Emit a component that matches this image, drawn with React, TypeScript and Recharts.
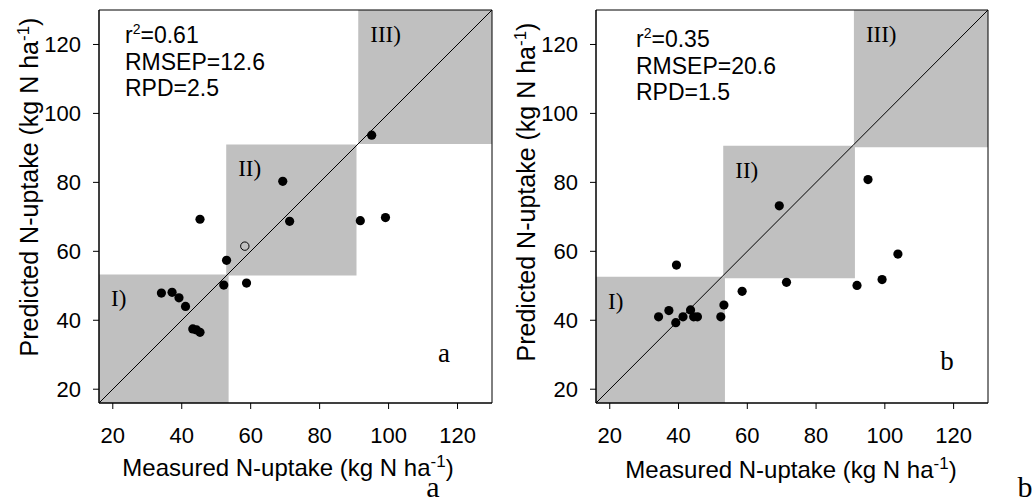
import { ScatterChart, Scatter, XAxis, YAxis, ReferenceArea, ReferenceLine } from 'recharts'

const axisTicks = [20, 40, 60, 80, 100, 120]
const lo = 16
const hi = 130

// panel a
const measuredA = [34.1, 37.2, 39.2, 41.1, 43.2, 44.3, 45.3, 45.3, 52.2, 53.0, 58.8, 69.3, 71.3, 91.8, 95.1, 99.1]
const predictedA = [47.9, 48.1, 46.5, 44.0, 37.5, 37.2, 36.5, 69.3, 50.2, 57.4, 50.8, 80.3, 68.7, 68.9, 93.7, 69.8]
const measuredOpenA = [58.3]
const predictedOpenA = [61.5]

// panel b
const measuredB = [34.2, 37.2, 39.2, 39.4, 41.3, 43.5, 44.4, 45.5, 52.3, 53.2, 58.5, 69.3, 71.4, 91.9, 95.1, 99.2, 103.8]
const predictedB = [41.0, 42.8, 39.3, 56.0, 41.0, 43.0, 41.0, 41.0, 41.0, 44.4, 48.4, 73.2, 51.0, 50.1, 80.8, 51.8, 59.2]

const zoneNames = ['I)', 'II)', 'III)']
const zoneXA = [[16, 53.6], [52.9, 90.7], [91.2, 130]]
const zoneYA = [[16, 53.3], [53.0, 91.0], [91.1, 130]]
const zoneXB = [[16, 53.5], [53.0, 91.3], [91.0, 130]]
const zoneYB = [[16, 52.6], [52.2, 90.6], [90.2, 130]]

const statsA = { r2: '0.61', rmsep: '12.6', rpd: '2.5' }
const statsB = { r2: '0.35', rmsep: '20.6', rpd: '1.5' }

const sans = '"Liberation Sans", Arial, sans-serif'
const serif = '"Liberation Serif", "Times New Roman", serif'

const toPoints = (xs: number[], ys: number[]) => xs.map((x, i) => ({ x, y: ys[i] }))

function XTick({ x, y, payload }: any) {
  return (
    <text x={x} y={y} dy={16} textAnchor="middle" fontFamily={sans} fontSize={22} fill="#000">
      {payload.value}
    </text>
  )
}

function YTick({ x, y, payload }: any) {
  return (
    <text x={x} y={y} dy={8} textAnchor="end" fontFamily={sans} fontSize={22} fill="#000">
      {payload.value}
    </text>
  )
}

const zoneLabel = (text: string) => (props: any) => {
  const vb = props.viewBox
  return (
    <text x={vb.x + 12} y={vb.y + 32} fontFamily={serif} fontSize={23} fill="#000">
      {text}
    </text>
  )
}

const dot = (p: any) => <circle cx={p.cx} cy={p.cy} r={4.6} fill="#000" />
const openDot = (p: any) => <circle cx={p.cx} cy={p.cy} r={4.2} fill="none" stroke="#000" strokeWidth={1} />

function Panel({ width, yAxisWidth, right, filled, open, zoneX, zoneY }: any) {
  return (
    <ScatterChart width={width} height={500} margin={{ top: 10, right, bottom: 0, left: 0 }}>
      <XAxis
        type="number" dataKey="x" domain={[lo, hi]} ticks={axisTicks} allowDataOverflow
        height={97} tickSize={6} tickMargin={18} tick={<XTick />}
        stroke="#000" tickLine={{ stroke: '#000' }}
      />
      <YAxis
        type="number" dataKey="y" domain={[lo, hi]} ticks={axisTicks} allowDataOverflow
        width={yAxisWidth} tickSize={6} tickMargin={12} tick={<YTick />}
        stroke="#000" tickLine={{ stroke: '#000' }}
      />
      {zoneNames.map((name, i) => (
        <ReferenceArea
          key={name} x1={zoneX[i][0]} x2={zoneX[i][1]} y1={zoneY[i][0]} y2={zoneY[i][1]}
          fill="#c0c0c0" fillOpacity={1} stroke="none" label={zoneLabel(name)}
        />
      ))}
      <ReferenceLine segment={[{ x: lo, y: lo }, { x: hi, y: hi }]} stroke="#000" strokeWidth={1} />
      <Scatter data={filled} shape={dot} isAnimationActive={false} />
      {open && <Scatter data={open} shape={openDot} isAnimationActive={false} />}
      <ReferenceArea x1={lo} x2={hi} y1={lo} y2={hi} fill="none" stroke="#000" strokeWidth={1} />
    </ScatterChart>
  )
}

function Stats({ x, y, s }: any) {
  return (
    <g fontFamily={sans} fontSize={23} fill="#000">
      <text x={x} y={y}>
        r<tspan dy={-9} fontSize={14}>2</tspan><tspan dy={9}>={s.r2}</tspan>
      </text>
      <text x={x} y={y + 27}>RMSEP={s.rmsep}</text>
      <text x={x} y={y + 53}>RPD={s.rpd}</text>
    </g>
  )
}

function XTitle({ x, y }: any) {
  return (
    <text x={x} y={y} textAnchor="middle" fontFamily={sans} fontSize={24} fill="#000">
      Measured N-uptake (kg N ha<tspan dy={-9} fontSize={17}>-1</tspan><tspan dy={9}>)</tspan>
    </text>
  )
}

function YTitle({ x, y }: any) {
  return (
    <text transform={`translate(${x},${y}) rotate(-90)`} textAnchor="middle" fontFamily={sans} fontSize={25} fill="#000">
      Predicted N-uptake (kg N ha<tspan dy={-9} fontSize={17}>-1</tspan><tspan dy={9}>)</tspan>
    </text>
  )
}

export default function App() {
  return (
    <div style={{ position: 'absolute', left: 0, top: 0, width: 1035, height: 500, background: '#fff' }}>
      <div style={{ position: 'absolute', left: 0, top: 0 }}>
        <Panel
          width={520} yAxisWidth={99} right={28}
          filled={toPoints(measuredA, predictedA)} open={toPoints(measuredOpenA, predictedOpenA)}
          zoneX={zoneXA} zoneY={zoneYA}
        />
      </div>
      <div style={{ position: 'absolute', left: 500, top: 0 }}>
        <Panel
          width={535} yAxisWidth={96} right={47}
          filled={toPoints(measuredB, predictedB)}
          zoneX={zoneXB} zoneY={zoneYB}
        />
      </div>
      <svg width={1035} height={500} style={{ position: 'absolute', left: 0, top: 0, pointerEvents: 'none' }}>
        <Stats x={125} y={43} s={statsA} />
        <Stats x={636} y={47} s={statsB} />
        <XTitle x={288} y={476} />
        <XTitle x={791} y={478} />
        <YTitle x={38} y={187} />
        <YTitle x={535} y={192} />
        <text x={444} y={362} textAnchor="middle" fontFamily={serif} fontSize={27}>a</text>
        <text x={947} y={370} textAnchor="middle" fontFamily={serif} fontSize={27}>b</text>
        <text x={433} y={497} textAnchor="middle" fontFamily={serif} fontSize={30}>a</text>
        <text x={1025} y={497} textAnchor="middle" fontFamily={serif} fontSize={30}>b</text>
      </svg>
    </div>
  )
}
